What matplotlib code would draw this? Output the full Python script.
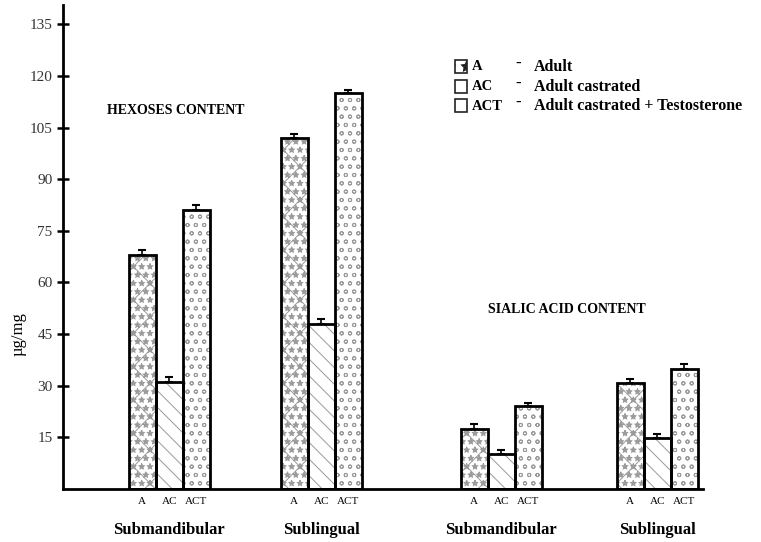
import numpy as np
import matplotlib.pyplot as plt
from matplotlib.patches import Rectangle

plt.rcParams['font.family'] = ['Liberation Serif', 'DejaVu Serif']
plt.rcParams['hatch.linewidth'] = 0.7

# data
groups = ['Submandibular', 'Sublingual', 'Submandibular', 'Sublingual']
treatments = ['A', 'AC', 'ACT']
vals_a = [68, 102, 17.4, 30.8]
vals_ac = [31, 48, 10.2, 14.8]
vals_act = [81, 115, 24.1, 34.9]
err_a = [1.5, 1.2, 1.5, 1.2]
err_ac = [1.5, 1.5, 1.2, 1.2]
err_act = [1.5, 1.0, 1.0, 1.5]
yticks = [15, 30, 45, 60, 75, 90, 105, 120, 135]
legend_text = ['Adult', 'Adult castrated', 'Adult castrated + Testosterone']

fig = plt.figure(figsize=(7.61, 5.42), dpi=100)
ax = fig.add_axes([0.083, 0.098, 0.841, 0.893])

centers = np.array([106, 258, 438, 594])
w = 27
hatches = ['x**', '\\\\', 'oo']
series = [(vals_a, err_a), (vals_ac, err_ac), (vals_act, err_act)]
for i, (v, e) in enumerate(series):
    xs = centers + (i - 1) * w
    ax.bar(xs, v, width=w, facecolor='white', edgecolor='#9a9a9a',
           hatch=hatches[i], linewidth=0, zorder=2)
    ax.bar(xs, v, width=w, facecolor='none', edgecolor='black',
           linewidth=2, zorder=3)
    ax.errorbar(xs, v, yerr=[np.zeros(len(e)), e], fmt='none', ecolor='black',
                elinewidth=1.2, capsize=3, capthick=1.5, zorder=4)
    for x in xs:
        ax.text(x, -2.5, treatments[i], ha='center', va='top', fontsize=8)

for c, g in zip(centers, groups):
    ax.text(c, -9.5, g, ha='center', va='top', fontsize=12, fontweight='bold')

ax.set_xlim(0, 640)
ax.set_ylim(0, 140.7)
ax.set_yticks(yticks)
ax.set_yticklabels([str(t) for t in yticks], fontsize=11, color='#333333')
ax.set_xticks([])
ax.tick_params(axis='y', direction='inout', length=8, width=1.8)
for s in ['top', 'right']:
    ax.spines[s].set_visible(False)
ax.spines['left'].set_linewidth(2)
ax.spines['bottom'].set_linewidth(2)
ax.set_ylabel('µg/mg', fontsize=12)
ax.yaxis.set_label_coords(-0.058, 0.32)

ax.text(44, 109, 'HEXOSES CONTENT', fontsize=10, fontweight='bold')
ax.text(425, 51, 'SIALIC ACID CONTENT', fontsize=10, fontweight='bold')

# legend drawn by hand in figure coordinates
legend_hatch = ['*', '', '']
row_y = [67, 87, 106]
for i in range(3):
    yf = 1 - row_y[i] / 542
    fig.patches.append(Rectangle((455 / 761, yf - 6 / 542), 12 / 761, 13 / 542,
                                 transform=fig.transFigure, facecolor='white',
                                 edgecolor='#222222', hatch=legend_hatch[i],
                                 linewidth=1.2))
    fig.text(472 / 761, yf, treatments[i], fontsize=10.5, fontweight='bold', va='center')
    fig.text(515 / 761, yf + 3 / 542, '-', fontsize=12, fontweight='bold', va='center')
    fig.text(534 / 761, yf, legend_text[i], fontsize=11.5, fontweight='bold', va='center')

fig.savefig('out.png', dpi=100)
